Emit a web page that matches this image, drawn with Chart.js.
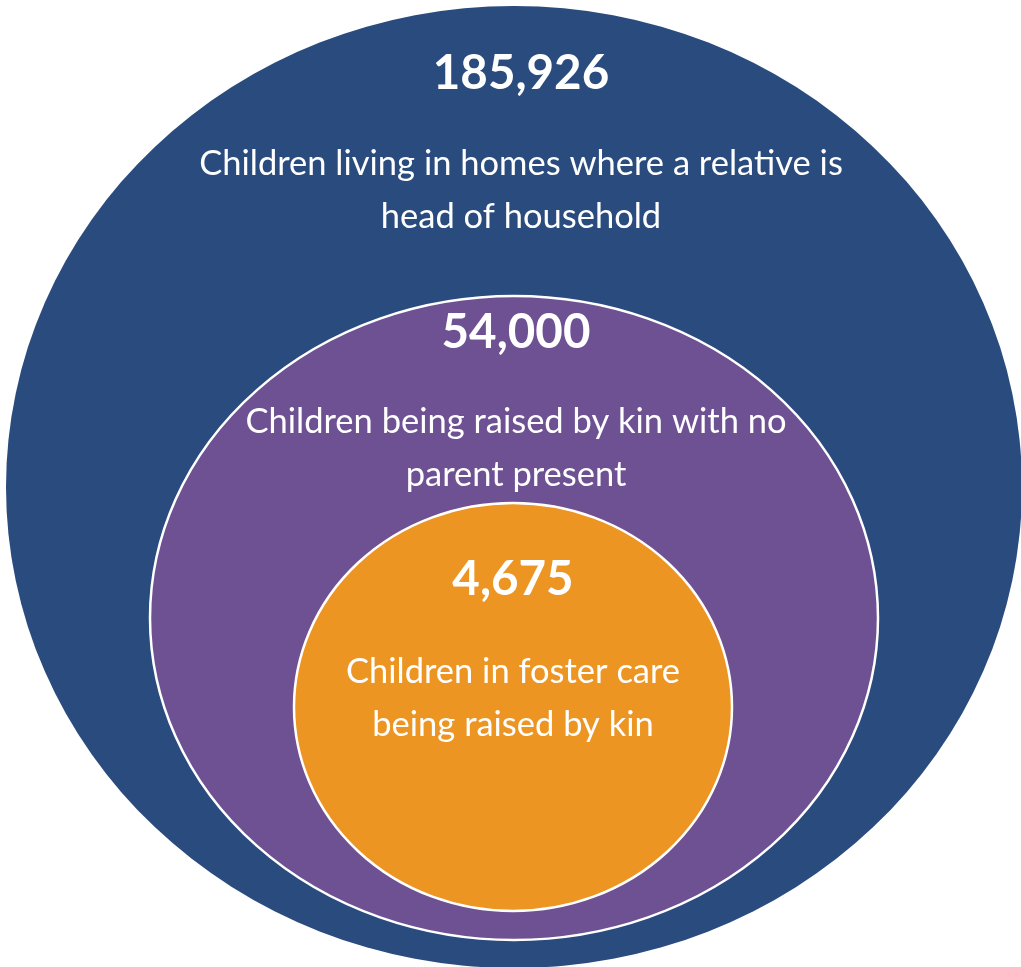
<!DOCTYPE html>
<html>
<head>
<meta charset="utf-8">
<script src="https://cdn.jsdelivr.net/npm/chart.js@4/dist/chart.umd.min.js"></script>
<style>
  html, body { margin: 0; padding: 0; background: #ffffff; }
  #wrap { width: 1021px; height: 967px; }
</style>
</head>
<body>
<div id="wrap"><canvas id="c" width="1021" height="967"></canvas></div>
<script>
// ---- data ----
const counts = [185926, 54000, 4675];
const categories = [
  ['Children living in homes where a relative is', 'head of household'],
  ['Children being raised by kin with no', 'parent present'],
  ['Children in foster care', 'being raised by kin']
];
// ---- layout (scale units) ----
const centersX = [514, 514, 513];
const centersY = [487, 618, 707];
const radiiX = [508, 364, 219];
const radiiY = [481, 322, 204];
const numberY = [74, 333, 580];
const labelY = [164, 422, 672];
const textX = [521, 516, 513];
// ---- styles ----
const fills = ['#2a4b7e', '#6e5193', '#ed9522'];
const borders = [null, '#ffffff', '#ffffff'];

const ellipsePlugin = {
  id: 'ellipses',
  beforeDatasetsDraw(chart) {
    const ctx = chart.ctx, xs = chart.scales.x, ys = chart.scales.y;
    counts.forEach((v, i) => {
      const cx = xs.getPixelForValue(centersX[i]);
      const cy = ys.getPixelForValue(centersY[i]);
      const rx = Math.abs(xs.getPixelForValue(centersX[i] + radiiX[i]) - cx);
      const ry = Math.abs(ys.getPixelForValue(centersY[i] + radiiY[i]) - cy);
      ctx.save();
      ctx.beginPath();
      ctx.ellipse(cx, cy, rx, ry, 0, 0, Math.PI * 2);
      ctx.fillStyle = fills[i];
      ctx.fill();
      if (borders[i]) { ctx.lineWidth = 2.5; ctx.strokeStyle = borders[i]; ctx.stroke(); }
      ctx.restore();
    });
  },
  afterDatasetsDraw(chart) {
    const ctx = chart.ctx, xs = chart.scales.x, ys = chart.scales.y;
    counts.forEach((v, i) => {
      const x = xs.getPixelForValue(textX[i]);
      ctx.save();
      ctx.fillStyle = '#ffffff';
      ctx.textAlign = 'center';
      ctx.textBaseline = 'middle';
      ctx.font = 'bold 47.5px Lato';
      ctx.fillText(v.toLocaleString('en-US'), x, ys.getPixelForValue(numberY[i]));
      ctx.font = '34.5px Lato';
      categories[i].forEach((line, j) => {
        ctx.fillText(line, x, ys.getPixelForValue(labelY[i] + j * 53));
      });
      ctx.restore();
    });
  }
};

new Chart(document.getElementById('c'), {
  type: 'scatter',
  data: {
    datasets: counts.map((v, i) => ({
      label: categories[i].join(' '),
      data: [{ x: centersX[i], y: centersY[i] }],
      pointRadius: 0,
      pointHoverRadius: 0
    }))
  },
  options: {
    responsive: false,
    animation: false,
    layout: { padding: 0 },
    plugins: { legend: { display: false }, tooltip: { enabled: false } },
    events: [],
    scales: {
      x: { type: 'linear', min: 0, max: 1021, display: false },
      y: { type: 'linear', min: 0, max: 967, reverse: true, display: false }
    }
  },
  plugins: [ellipsePlugin]
});
</script>
</body>
</html>
